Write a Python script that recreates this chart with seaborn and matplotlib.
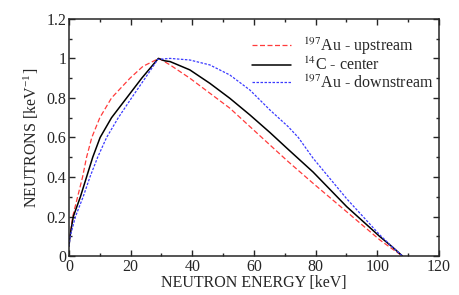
import matplotlib
matplotlib.use("Agg")
import matplotlib.pyplot as plt
from matplotlib.ticker import MultipleLocator, FormatStrFormatter
import seaborn as sns

sns.set_style("ticks")
plt.rcParams["font.family"] = ["Liberation Serif", "DejaVu Serif"]
plt.rcParams["mathtext.fontset"] = "stix"

# 197Au upstream
red_e = [0, 0.3, 1.2, 2.8, 4.4, 5.7, 7.4, 10, 13.8, 19.8, 24, 29.2, 32.8, 39.2,
         45.7, 52.2, 58.7, 65.2, 71.1, 79.2, 90.1, 100.9, 105, 108.2]
red_v = [0.05, 0.1, 0.2, 0.3, 0.4, 0.5, 0.6, 0.7, 0.8, 0.9, 0.96, 1.0, 0.967,
         0.9, 0.824, 0.748, 0.655, 0.562, 0.478, 0.368, 0.224, 0.081, 0.035, 0.0]

# 14C center
blk_e = [0, 0.3, 1.4, 3.7, 5.7, 7.7, 10.1, 13.8, 18.7, 23.6, 29, 31, 32.8, 39.2,
         45.7, 52.2, 58.7, 65.2, 71.1, 79.2, 90.1, 100.9, 105, 108.2]
blk_v = [0.05, 0.1, 0.2, 0.3, 0.4, 0.5, 0.6, 0.7, 0.8, 0.9, 1.0, 0.988, 0.984,
         0.942, 0.874, 0.798, 0.714, 0.625, 0.54, 0.425, 0.25, 0.098, 0.045, 0.0]

# 197Au downstream
blu_e = [0, 0.4, 2.1, 4.6, 6.8, 9.3, 12.2, 16, 20.3, 24.7, 28.8, 32.8, 39.2,
         45.7, 52.2, 58.7, 65.2, 71.1, 74.4, 79.2, 90.1, 100.9, 105, 108.2]
blu_v = [0.05, 0.1, 0.2, 0.3, 0.4, 0.5, 0.6, 0.7, 0.8, 0.9, 0.995, 1.0, 0.992,
         0.967, 0.916, 0.84, 0.739, 0.655, 0.6, 0.495, 0.29, 0.106, 0.045, 0.0]

labels = [r"$^{197}$Au - upstream", r"$^{14}$C - center", r"$^{197}$Au - downstream"]

fig = plt.figure(figsize=(4.6, 2.95), dpi=100)
ax = fig.add_axes([0.15, 0.132, 0.804, 0.804])

sns.lineplot(x=red_e, y=red_v, ax=ax, color="#ff3b3b", lw=0.9,
             label=labels[0], estimator=None, sort=False)
sns.lineplot(x=blk_e, y=blk_v, ax=ax, color="black", lw=1.1,
             label=labels[1], estimator=None, sort=False)
sns.lineplot(x=blu_e, y=blu_v, ax=ax, color="#3b3bff", lw=0.9,
             label=labels[2], estimator=None, sort=False)
ax.lines[0].set_dashes([4, 2])
ax.lines[2].set_dashes([2, 1.2])

ax.set_xlim(0, 120)
ax.set_ylim(0, 1.2)
ax.xaxis.set_major_locator(MultipleLocator(20))
ax.xaxis.set_minor_locator(MultipleLocator(10))
ax.yaxis.set_major_locator(MultipleLocator(0.2))
ax.yaxis.set_minor_locator(MultipleLocator(0.1))
ax.yaxis.set_major_formatter(FormatStrFormatter("%g"))
ax.tick_params(which="both", direction="in", top=True, right=True,
               labelsize=11.5, width=1, pad=2)
ax.tick_params(which="major", length=4)
ax.tick_params(which="minor", length=2.5)
for s in ax.spines.values():
    s.set_linewidth(1.1)

ax.set_xlabel("NEUTRON ENERGY [keV]", fontsize=11.5, labelpad=0)
ax.set_ylabel(r"NEUTRONS [keV$^{\mathregular{-1}}$]", fontsize=11.5, labelpad=4)

ax.legend(loc="upper right", frameon=False, fontsize=11.5, handlelength=2.5,
          handletextpad=0.7, labelspacing=0.02, borderaxespad=0.3,
          bbox_to_anchor=(1.015, 0.978))

fig.savefig("out.png", dpi=100)
